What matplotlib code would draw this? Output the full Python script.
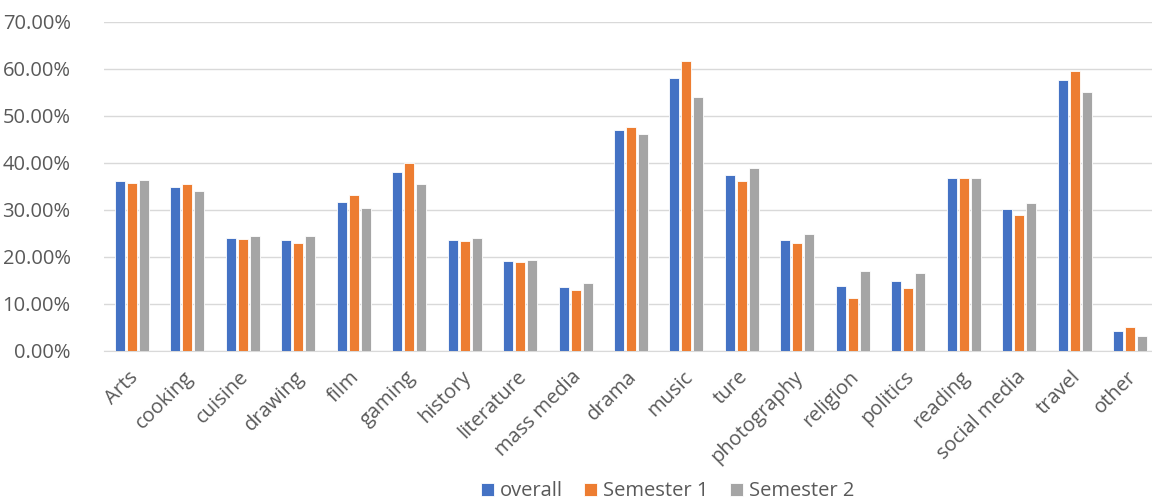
import numpy as np
import matplotlib
matplotlib.use('Agg')
import matplotlib.pyplot as plt
import matplotlib.transforms as mtransforms
from matplotlib.ticker import FuncFormatter

categories = ['Arts', 'cooking', 'cuisine', 'drawing', 'film', 'gaming', 'history',
              'literature', 'mass media', 'drama', 'music', 'ture', 'photography',
              'religion', 'politics', 'reading', 'social media', 'travel', 'other']

overall = [35.96, 34.7, 24.0, 23.5, 31.7, 37.9, 23.6, 19.1, 13.6, 46.9,
           58.0, 37.3, 23.6, 13.8, 14.8, 36.7, 30.1, 57.5, 4.1]
semester1 = [35.7, 35.4, 23.8, 22.8, 33.0, 40.0, 23.3, 18.9, 12.9, 47.5,
             61.6, 36.0, 22.8, 11.2, 13.2, 36.7, 28.9, 59.5, 5.0]
semester2 = [36.2, 33.9, 24.4, 24.4, 30.3, 35.4, 24.0, 19.2, 14.4, 46.0,
             53.9, 38.9, 24.8, 17.0, 16.5, 36.6, 31.4, 55.1, 3.0]

series = [('overall', overall, '#4472C4'),
          ('Semester 1', semester1, '#ED7D31'),
          ('Semester 2', semester2, '#A5A5A5')]

plt.rcParams['font.family'] = ['Open Sans', 'DejaVu Sans']
txt = '#595959'
fs = 14.5

fig = plt.figure(figsize=(11.52, 4.99), dpi=100)
ax = fig.add_axes([104 / 1152, 1 - 350.5 / 499, 1054 / 1152, 329 / 499])

x = np.arange(len(categories))
width = 0.18
pitch = 0.216
for i, (name, vals, col) in enumerate(series):
    ax.bar(x + (i - 1) * pitch, vals, width, color=col, label=name,
           edgecolor='white', linewidth=0.6, zorder=3)

ax.set_xlim(-0.5, len(categories) - 0.5)
ax.set_ylim(0, 70)
ax.set_yticks(np.arange(0, 71, 10))
ax.yaxis.set_major_formatter(FuncFormatter(lambda v, p: f'{v:.2f}%'))
ax.grid(axis='y', color='#D9D9D9', linewidth=1, zorder=0)
for s in ['top', 'right', 'left']:
    ax.spines[s].set_visible(False)
ax.spines['bottom'].set_color('#D9D9D9')
ax.tick_params(axis='both', length=0, labelsize=fs, colors=txt)
ax.tick_params(axis='y', pad=24)
ax.set_xticks(x)
ax.set_xticklabels(categories, rotation=45, ha='right', rotation_mode='anchor')
ax.tick_params(axis='x', pad=12)
# nudge the slanted labels a little to the left
shift = mtransforms.ScaledTranslation(-4 / 100, 0, fig.dpi_scale_trans)
for lbl in ax.get_xticklabels():
    lbl.set_transform(lbl.get_transform() + shift)

fig.legend(loc='lower center', bbox_to_anchor=(0.5795, -0.041), ncol=3, frameon=False,
           fontsize=fs, labelcolor=txt, handlelength=0.65, handleheight=0.65,
           handletextpad=0.3, columnspacing=1.05)

fig.savefig('out.png', dpi=100)
